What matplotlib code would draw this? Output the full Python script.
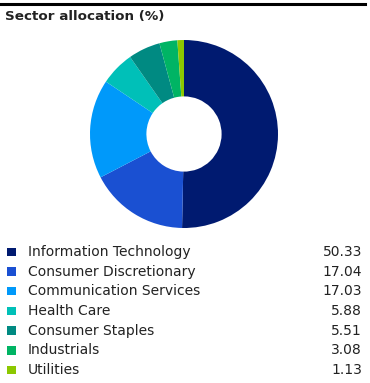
import matplotlib.pyplot as plt
from matplotlib.patches import Rectangle

sectors = ["Information Technology", "Consumer Discretionary", "Communication Services",
           "Health Care", "Consumer Staples", "Industrials", "Utilities"]
weights = [50.33, 17.04, 17.03, 5.88, 5.51, 3.08, 1.13]
colors = ["#001a70", "#1a50d2", "#0099fa", "#00c0b8", "#008a82", "#00b464", "#8cc800"]

W, H = 370, 383
fig = plt.figure(figsize=(W / 100, H / 100), dpi=100)

# top rule + title
fig.add_artist(plt.Line2D([0, 365 / W], [1 - 4 / H, 1 - 4 / H], color="black", lw=2.2))
fig.text(5 / W, 1 - 16.5 / H, "Sector allocation (%)", fontsize=9.7, fontweight="bold",
         va="center", ha="left", color="#222222")

# donut
ax = fig.add_axes([90 / W, 1 - 228 / H, 188 / W, 188 / H])
ax.pie(weights, colors=colors, startangle=90, counterclock=False, radius=1,
       wedgeprops=dict(width=0.6, linewidth=0))
ax.set_xlim(-1, 1)
ax.set_ylim(-1, 1)
ax.set_aspect("equal")
ax.axis("off")

# legend table
lax = fig.add_axes([0, 0, 1, 1])
lax.set_xlim(0, W)
lax.set_ylim(H, 0)
lax.axis("off")
y0, dy = 252, 19.7
for i, (name, val, c) in enumerate(zip(sectors, weights, colors)):
    y = y0 + i * dy
    lax.add_patch(Rectangle((7, y - 4.5), 8.5, 8.5, color=c, lw=0))
    lax.text(28, y, name, fontsize=10, va="center", ha="left", color="#222222")
    lax.text(362, y, f"{val:.2f}", fontsize=10, va="center", ha="right", color="#222222")

fig.savefig("out.png", dpi=100)
